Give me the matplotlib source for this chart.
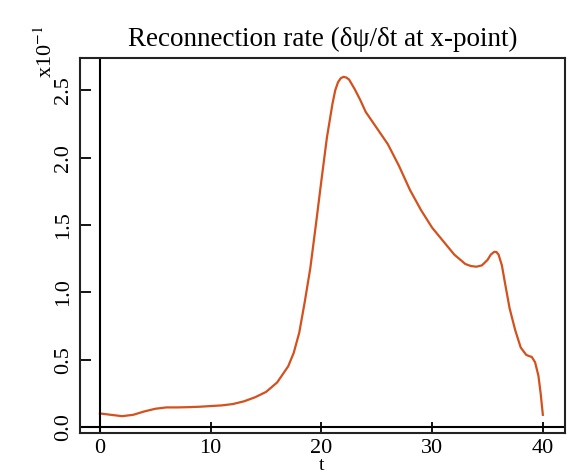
import matplotlib
matplotlib.use("Agg")
import matplotlib.pyplot as plt

# ============================================
# DATA
# ============================================
t_vals = [0, 1, 2, 3, 4, 5, 6, 7, 8, 9, 10, 11, 12, 13, 14, 15, 16, 17,
          17.5, 18, 18.5, 19, 19.5, 20, 20.5, 21, 21.25, 21.5, 21.75, 22, 22.25,
          22.5, 23, 23.5, 24, 25, 26, 27, 28, 29, 30, 31, 32, 33, 33.5, 34,
          34.5, 35, 35.3, 35.6, 35.8, 36.0, 36.3, 36.6, 37, 37.5, 38, 38.5, 38.8,
          39, 39.3, 39.6, 39.8, 40]
rate = [0.10, 0.09, 0.08, 0.09, 0.115, 0.135, 0.145, 0.145, 0.147, 0.15,
        0.155, 0.16, 0.17, 0.19, 0.22, 0.26, 0.33, 0.45,
        0.55, 0.70, 0.93, 1.18, 1.50, 1.83, 2.15, 2.40, 2.50, 2.56, 2.59, 2.60, 2.595,
        2.58, 2.51, 2.43, 2.34, 2.22, 2.10, 1.94, 1.76, 1.61, 1.48, 1.38, 1.28, 1.21, 1.195, 1.19,
        1.20, 1.24, 1.28, 1.30, 1.30, 1.28, 1.20, 1.06, 0.88, 0.72, 0.59, 0.535, 0.525,
        0.52, 0.48, 0.38, 0.25, 0.09]

x_ticks = [0, 10, 20, 30, 40]
y_ticks = [0.0, 0.5, 1.0, 1.5, 2.0, 2.5]
y_tick_labels = ["0.0", "0.5", "1.0", "1.5", "2.0", "2.5"]

# ============================================
# PLOT
# ============================================
plt.rcParams['font.family'] = ['Liberation Serif', 'DejaVu Serif']
plt.rcParams['mathtext.fontset'] = 'stix'

fig = plt.figure(figsize=(5.72, 4.74), dpi=100)
ax = fig.add_axes([80 / 572, 1 - 433 / 474, 485 / 572, 375 / 474])

ax.plot(t_vals, rate, color='#d4501c', linewidth=1.6)
ax.axhline(0, color='black', linewidth=1.5)
ax.axvline(0, color='black', linewidth=1.5)

ax.set_xlim(-1.8, 42.0)
ax.set_ylim(-0.045, 2.74)

ax.set_xticks(x_ticks)
ax.set_yticks(y_ticks)
ax.set_yticklabels(y_tick_labels, rotation=90, va='center')
ax.tick_params(direction='in', length=8, width=1.3, labelsize=16, pad=5)
ax.tick_params(axis='x', pad=4)

for s in ax.spines.values():
    s.set_linewidth(1.5)
    s.set_color('#222222')

ax.set_title('Reconnection rate (\u03b4\u03c8/\u03b4t at x-point)', fontsize=19.5, pad=9)
fig.text(46 / 572, 1 - 52 / 474, r'x10$^{-1}$', rotation=90, fontsize=16,
         ha='center', va='center')
fig.text(322 / 572, 0.0, 't', fontsize=14, ha='center', va='bottom')

fig.savefig('out.png', dpi=100)
